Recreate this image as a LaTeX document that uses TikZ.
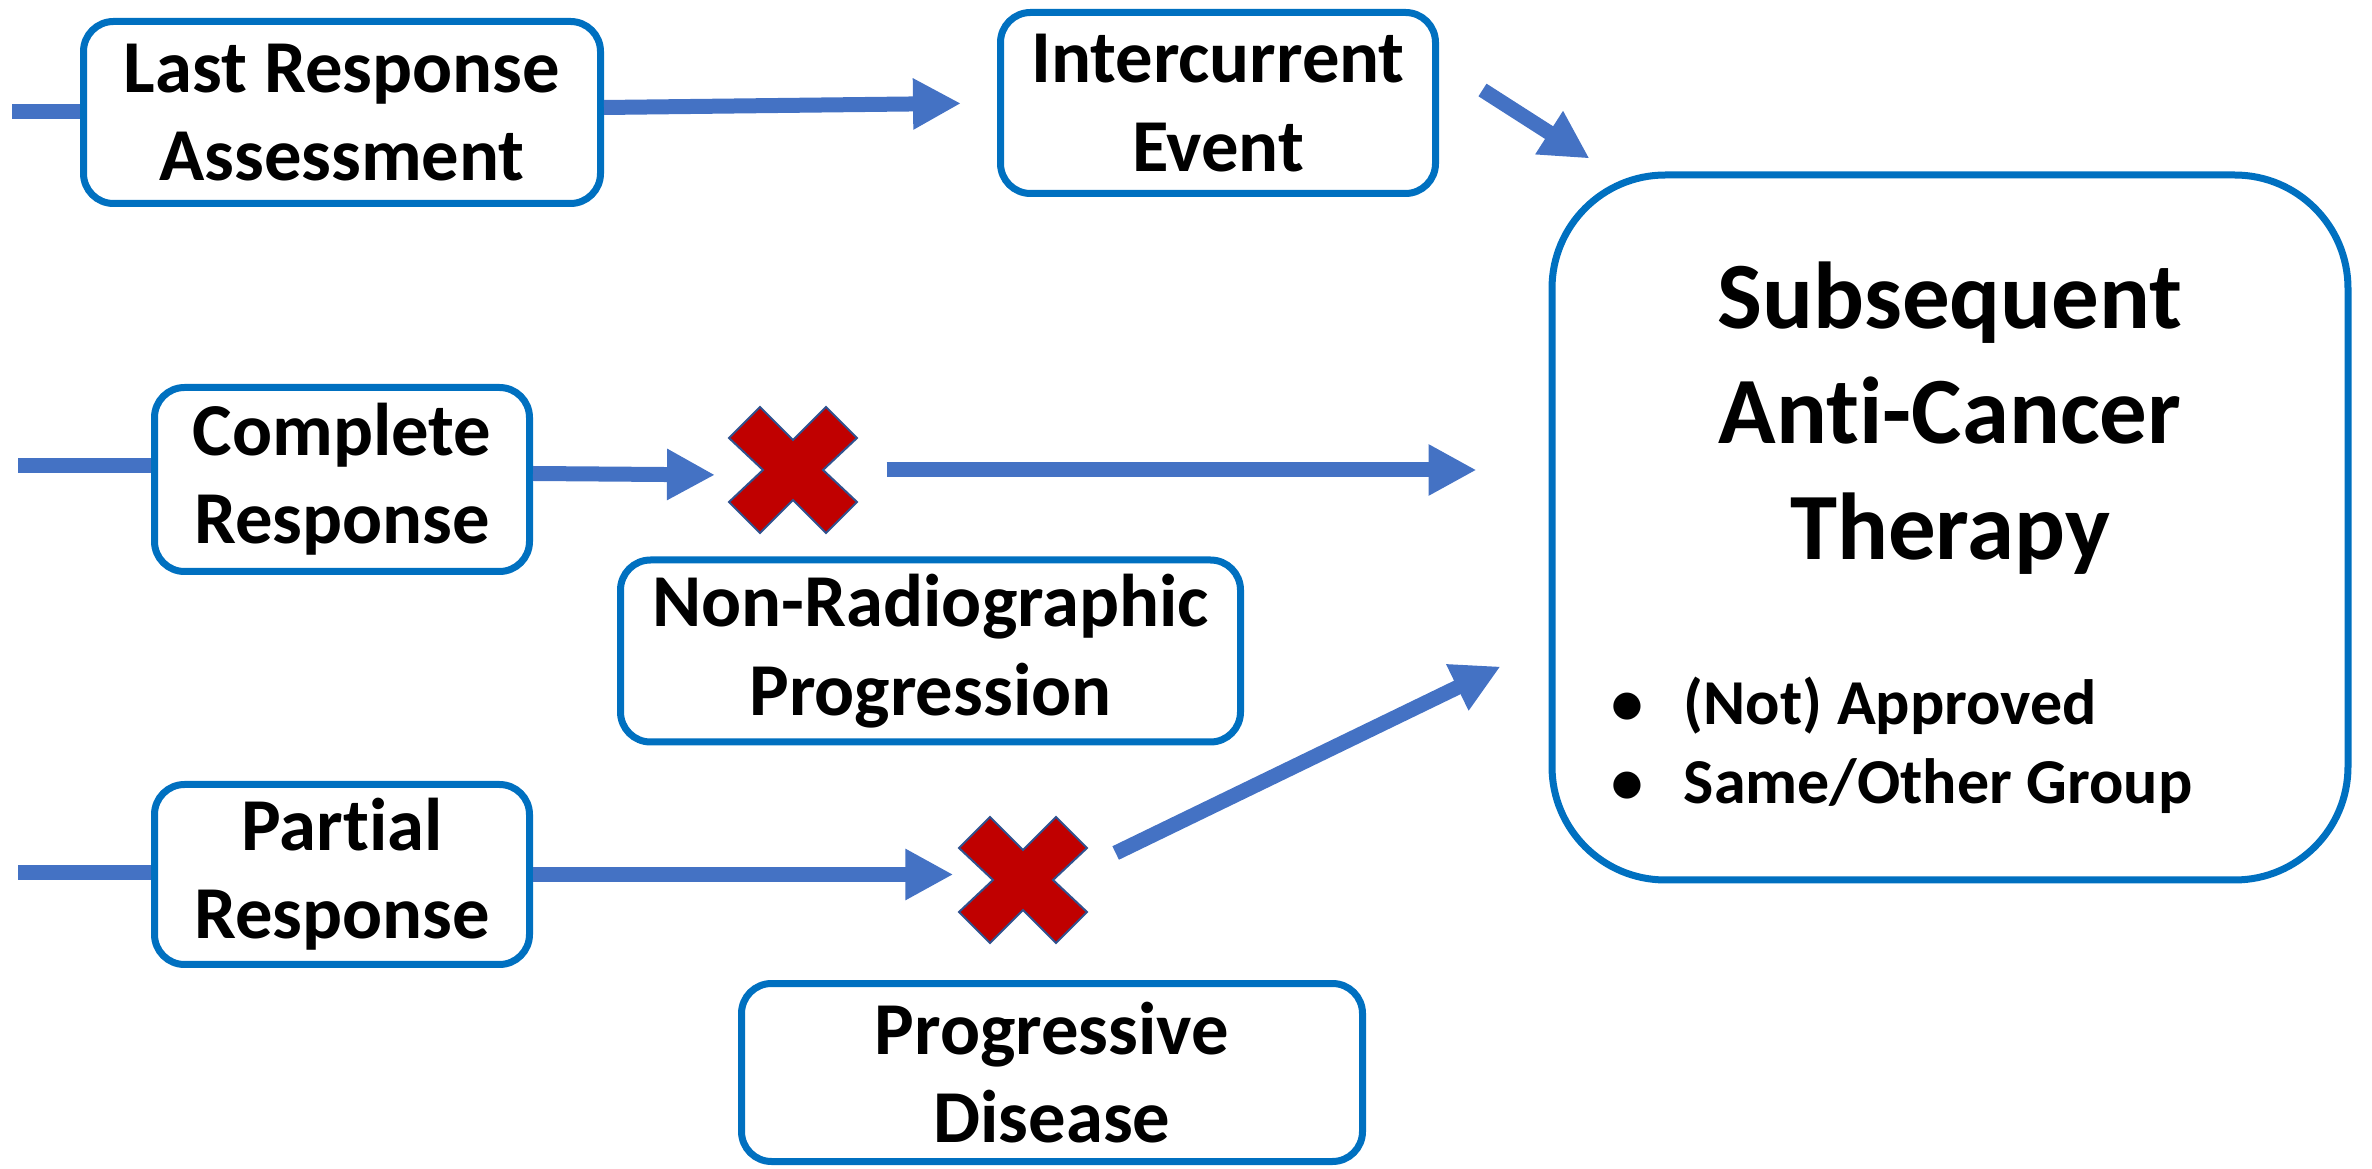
\documentclass[tikz,border=0pt]{standalone}
\usepackage{fontspec}
\setmainfont{Carlito}[Ligatures=NoCommon]
\usetikzlibrary{arrows.meta}

\definecolor{boxblue}{HTML}{0070C0}
\definecolor{flowblue}{HTML}{4472C4}
\definecolor{crossred}{HTML}{C00000}
\definecolor{crossedge}{HTML}{2F528F}

\tikzset{
  box/.style={draw=boxblue, line width=2.1pt, rounded corners=9pt, fill=white,
    align=center, inner sep=0pt, font=\fontsize{22.4}{26.5}\selectfont\bfseries},
  flow/.style={draw=flowblue, line width=4.5pt, -{Triangle[length=14.4pt,width=14.4pt]}},
  feed/.style={draw=flowblue, line width=4.5pt},
  crossbox/.style={minimum size=38.4pt, inner sep=0pt},
}

% cross mark drawn around a named node
\newcommand{\redcross}[1]{%
  \filldraw[fill=crossred, draw=crossedge, line width=0.6pt]
    (#1.center) +(0,-30) -- +(33,-63) -- +(64,-32) -- +(30,0) -- +(64,32)
    -- +(33,63) -- +(0,30) -- +(-33,63) -- +(-64,32) -- +(-30,0)
    -- +(-64,-32) -- +(-33,-63) -- cycle;}

\begin{document}
\begin{tikzpicture}[x=0.3pt, y=-0.3pt]
\useasboundingbox (0,0) rectangle (2372,1169);

% Boxes
\node[box, minimum width=155.1pt, minimum height=54.6pt] (LRA) at (342,112.5) {Last Response\\Assessment};
\node[box, minimum width=130.5pt, minimum height=54.3pt] (IE) at (1218,103) {Intercurrent\\Event};
\node[box, minimum width=112.5pt, minimum height=55.2pt] (CR) at (342,479.5) {Complete\\Response};
\node[box, minimum width=186pt, minimum height=54.6pt] (NRP) at (930.5,651) {Non-Radiographic\\Progression};
\node[box, minimum width=112.5pt, minimum height=54pt] (PR) at (342,874.5) {Partial\\Response};
\node[box, minimum width=186.3pt, minimum height=53.4pt] (PD) at (1052,1072.5) {Progressive\\Disease};

% Therapy box
\node[box, rounded corners=34pt, minimum width=238.8pt, minimum height=211.5pt] (Sub) at (1950,527.5) {};
\node[font=\fontsize{28.5}{34.7}\selectfont\bfseries, align=center] (subtitle) at (1950,418) {Subsequent\\Anti-Cancer\\Therapy};
\node[font=\fontsize{19.2}{23.6}\selectfont\bfseries, align=left, anchor=west] (subitems) at (1600,745)
  {\makebox[21.6pt][l]{\textbullet}(Not) Approved\\\makebox[21.6pt][l]{\textbullet}Same/Other Group};

% Crosses
\node[crossbox] (X1) at (793,470) {};
\node[crossbox] (X2) at (1023,880) {};
\redcross{X1}
\redcross{X2}

% Incoming lines
\coordinate (lrain) at (12,112);
\coordinate (crin) at (18,466);
\coordinate (prin) at (18,873);
\draw[feed] (lrain) -- (LRA.west |- lrain);
\draw[feed] (crin) -- (CR.west |- crin);
\draw[feed] (prin) -- (PR.west |- prin);

% Arrows
\draw[flow, shorten >=10.8pt] ([shift={(0,-5)}]LRA.east) -- (IE.west);
\draw[flow] ([shift={(43.5,-13)}]IE.east) -- ([shift={(41,-13)}]Sub.north west);
\draw[flow, shorten >=4pt] ([shift={(0,-6)}]CR.east) -- ([shift={(0,5)}]X1.west);
\draw[flow, shorten <=8.7pt, shorten >=21.6pt] (X1.east) -- (X1.east -| Sub.west);
\draw[flow, shorten >=1.5pt] (PR.east) -- (PR.east -| X2.west);
\draw[flow] ([shift={(28,-27)}]X2.east) -- ([shift={(-48,139)}]Sub.west);
\end{tikzpicture}
\end{document}
